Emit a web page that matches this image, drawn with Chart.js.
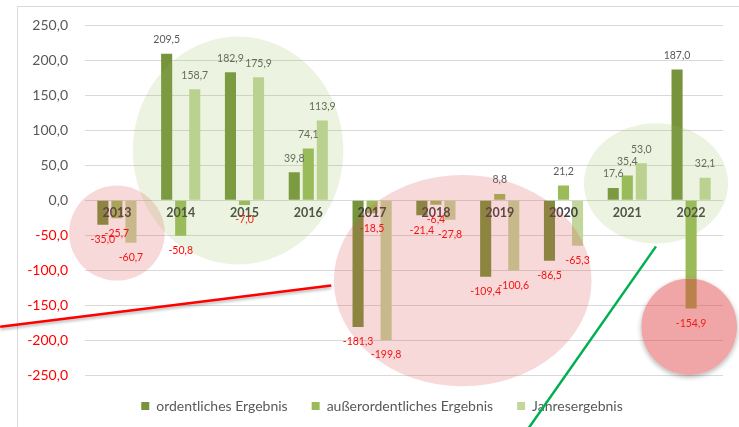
<!DOCTYPE html>
<html lang="de">
<head>
<meta charset="utf-8">
<title>Ergebnisentwicklung 2013–2022</title>
<script src="https://cdn.jsdelivr.net/npm/chart.js@4"></script>
<style>
  html, body { margin: 0; padding: 0; background: #fff; }
  #wrap { position: relative; width: 739px; height: 427px; }
</style>
</head>
<body>
<div id="wrap"><canvas id="resultChart"></canvas></div>
<script>
// Ergebnisse in Mio. je Jahr
const years = ['2013', '2014', '2015', '2016', '2017', '2018', '2019', '2020', '2021', '2022'];
const ordentlich = [-35.0, 209.5, 182.9, 39.8, -181.3, -21.4, -109.4, -86.5, 17.6, 187.0];
const ausserordentlich = [-25.7, -50.8, -7.0, 74.1, -18.5, -6.4, 8.8, 21.2, 35.4, -154.9];
const jahresergebnis = [-60.7, 158.7, 175.9, 113.9, -199.8, -27.8, -100.6, -65.3, 53.0, 32.1];
const yTicks = [-250, -200, -150, -100, -50, 0, 50, 100, 150, 200, 250];

// Hervorhebungen (Mittelpunkt: Kategorie-Index / Wert, Radien: Kategorien / Werteinheiten)
const highlights = [
  { cx: 0.0, cy: -47, rx: 0.75, ry: 68, fill: 'rgba(220, 80, 80, 0.22)' },
  { cx: 1.9, cy: 71, rx: 1.65, ry: 163, fill: 'rgba(150, 190, 90, 0.18)' },
  { cx: 5.42, cy: -115, rx: 2.02, ry: 151, fill: 'rgba(220, 80, 80, 0.22)' },
  { cx: 8.45, cy: 24, rx: 1.13, ry: 86, fill: 'rgba(150, 190, 90, 0.18)' },
  { cx: 8.97, cy: -181, rx: 0.75, ry: 69, fill: 'rgba(222, 60, 60, 0.46)', shadow: true }
];
const strokes = [
  { from: [-1.83, -181], to: [3.36, -122], color: '#ff0000', shadow: true },
  { from: [8.45, -66], to: [6.43, -329], color: '#00b050' }
];

const FONT = 'Lato, "Open Sans", sans-serif';
const GREY = '#595959';
const RED = '#ff0000';

const fmt = (v) => v.toFixed(1).replace('.', ',');

// Rahmen um das Diagramm; Legende etwas nach rechts rücken
const framePlugin = {
  id: 'frame',
  afterLayout(chart) {
    chart.legend.left += 8;
    chart.legend.right += 8;
  },
  beforeDraw(chart) {
    const c = chart.ctx;
    c.save();
    c.strokeStyle = '#d9d9d9';
    c.lineWidth = 1;
    c.beginPath();
    c.moveTo(17.5, chart.height);
    c.lineTo(17.5, 6.5);
    c.lineTo(chart.width, 6.5);
    c.stroke();
    c.restore();
  }
};

// Jahreszahlen an der Nulllinie und Werte an den Säulen
const labelPlugin = {
  id: 'labels',
  afterDatasetsDraw(chart) {
    const c = chart.ctx;
    const x = chart.scales.x;
    const y = chart.scales.y;
    const zero = y.getPixelForValue(0);
    c.save();
    c.textAlign = 'center';
    c.textBaseline = 'middle';

    c.font = 'bold 12.5px ' + FONT;
    c.fillStyle = '#404040';
    years.forEach((yr, i) => c.fillText(yr, x.getPixelForValue(i), zero + 13));

    c.font = '10.5px ' + FONT;
    chart.data.datasets.forEach((ds, di) => {
      chart.getDatasetMeta(di).data.forEach((bar, i) => {
        const v = ds.data[i];
        c.fillStyle = v < 0 ? RED : GREY;
        c.fillText(fmt(v), bar.x, v < 0 ? bar.y + 15 : bar.y - 14);
      });
    });
    c.restore();
  }
};

// Ellipsen und Linien über dem Diagramm
const highlightPlugin = {
  id: 'highlights',
  afterDraw(chart) {
    const c = chart.ctx;
    const x = chart.scales.x;
    const y = chart.scales.y;
    const catW = x.getPixelForValue(1) - x.getPixelForValue(0);
    const unit = Math.abs(y.getPixelForValue(0) - y.getPixelForValue(1));
    const shape = (h) => {
      c.beginPath();
      c.ellipse(x.getPixelForValue(h.cx), y.getPixelForValue(h.cy), h.rx * catW, h.ry * unit, 0, 0, Math.PI * 2);
    };
    c.save();
    highlights.forEach((h) => {
      if (h.shadow) {
        // Schatten nur außerhalb der halbtransparenten Fläche
        c.save();
        c.beginPath();
        c.rect(0, 0, chart.width, chart.height);
        c.ellipse(x.getPixelForValue(h.cx), y.getPixelForValue(h.cy), h.rx * catW, h.ry * unit, 0, 0, Math.PI * 2);
        c.clip('evenodd');
        c.shadowColor = 'rgba(0, 0, 0, 0.3)';
        c.shadowBlur = 5;
        c.shadowOffsetY = 2;
        c.fillStyle = '#fff';
        shape(h);
        c.fill();
        c.restore();
      }
      c.fillStyle = h.fill;
      shape(h);
      c.fill();
    });
    strokes.forEach((s) => {
      c.save();
      if (s.shadow) {
        c.shadowColor = 'rgba(0, 0, 0, 0.3)';
        c.shadowBlur = 3;
        c.shadowOffsetY = 2;
      }
      c.strokeStyle = s.color;
      c.lineWidth = 2.5;
      c.beginPath();
      c.moveTo(x.getPixelForValue(s.from[0]), y.getPixelForValue(s.from[1]));
      c.lineTo(x.getPixelForValue(s.to[0]), y.getPixelForValue(s.to[1]));
      c.stroke();
      c.restore();
    });
    c.restore();
  }
};

new Chart(document.getElementById('resultChart'), {
  type: 'bar',
  data: {
    labels: years,
    datasets: [
      { label: 'ordentliches Ergebnis', data: ordentlich, backgroundColor: '#77933c' },
      { label: 'außerordentliches Ergebnis', data: ausserordentlich, backgroundColor: '#9bbb59' },
      { label: 'Jahresergebnis', data: jahresergebnis, backgroundColor: '#c3d69b' }
    ]
  },
  options: {
    responsive: true,
    maintainAspectRatio: false,
    animation: false,
    layout: { padding: { left: 25, right: 16, top: 25, bottom: 4 } },
    datasets: {
      bar: { categoryPercentage: 0.66, barPercentage: 0.79 }
    },
    plugins: {
      tooltip: { enabled: false },
      legend: {
        position: 'bottom',
        labels: {
          boxWidth: 8,
          boxHeight: 8,
          padding: 24,
          color: GREY,
          font: { family: FONT, size: 14 }
        }
      }
    },
    scales: {
      x: {
        display: false
      },
      y: {
        min: -250,
        max: 250,
        afterBuildTicks: (scale) => { scale.ticks = yTicks.map((v) => ({ value: v })); },
        afterFit: (scale) => { scale.width = 60; },
        border: { display: false },
        grid: { color: '#d9d9d9', drawTicks: false },
        ticks: {
          padding: 17,
          font: { family: FONT, size: 14 },
          color: (ctx) => (ctx.tick.value < 0 ? RED : GREY),
          callback: (v) => fmt(v)
        }
      }
    }
  },
  plugins: [framePlugin, labelPlugin, highlightPlugin]
});
</script>
</body>
</html>
